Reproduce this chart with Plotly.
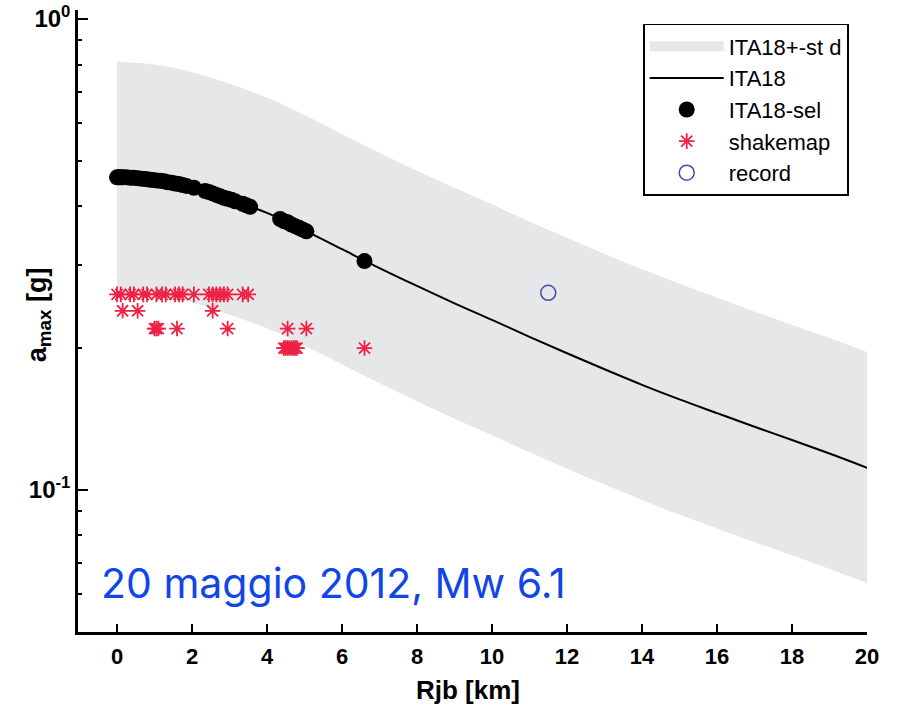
import plotly.graph_objects as go

# ITA18 median curve and +/- one standard deviation band (values in g)
dist_km = list(range(0, 21))
ita18_median = [0.4613, 0.4550, 0.4385, 0.4140, 0.3873, 0.3556, 0.3243, 0.2958, 0.2710, 0.2489,
                0.2296, 0.2113, 0.1950, 0.1803, 0.1671, 0.1556, 0.1455, 0.1361, 0.1276, 0.1194, 0.1114]
ita18_upper = [0.811, 0.800, 0.771, 0.728, 0.681, 0.625, 0.570, 0.520, 0.476, 0.438,
               0.404, 0.371, 0.343, 0.317, 0.294, 0.274, 0.256, 0.239, 0.224, 0.210, 0.196]
ita18_lower = [0.2624, 0.2589, 0.2495, 0.2355, 0.2203, 0.2023, 0.1845, 0.1683, 0.1542, 0.1416,
               0.1306, 0.1202, 0.1109, 0.1026, 0.0951, 0.0885, 0.0828, 0.0774, 0.0726, 0.0679, 0.0634]

# ITA18 selected sites
sel_x = [0.0, 0.05, 0.1, 0.15, 0.25, 0.35, 0.45, 0.55, 0.65, 0.75, 0.85, 0.95, 1.05, 1.15, 1.25,
         1.35, 1.45, 1.55, 1.65, 1.75, 1.85, 2.05,
         2.35, 2.45, 2.55, 2.65, 2.75, 2.85, 2.95, 3.05, 3.15, 3.35, 3.45, 3.55,
         4.35, 4.45, 4.55, 4.65, 4.75, 4.85, 4.95, 5.05, 6.6]
sel_y = [0.461, 0.461, 0.461, 0.461, 0.461, 0.460, 0.460, 0.459, 0.458, 0.457, 0.456, 0.455, 0.454,
         0.453, 0.452, 0.450, 0.449, 0.447, 0.446, 0.444, 0.442, 0.438,
         0.431, 0.429, 0.426, 0.423, 0.420, 0.417, 0.415, 0.413, 0.410, 0.405, 0.402, 0.399,
         0.376, 0.372, 0.370, 0.366, 0.363, 0.360, 0.357, 0.354, 0.306]

# ShakeMap values
shake_x = [0.0, 0.1, 0.35, 0.45, 0.7, 0.8, 1.05, 1.2, 1.3, 1.55, 1.65, 1.75, 2.05, 2.45, 2.55, 2.65,
           2.75, 2.85, 2.95, 3.35, 3.5,
           0.15, 0.55, 2.55,
           1.0, 1.05, 1.1, 1.6, 2.95, 4.55, 5.05,
           4.45, 4.5, 4.55, 4.6, 4.65, 4.7, 4.75, 4.8, 6.6]
shake_y = [0.26] * 21 + [0.24] * 3 + [0.22] * 7 + [0.20] * 9

# Recorded value
rec_x = [11.5]
rec_y = [0.262]

x_ticks = list(range(0, 21, 2))
y_major = [0.1, 1.0]
y_major_text = ["<b>10<sup>-1</sup></b>", "<b>10<sup>0</sup></b>"]
y_minor = [0.06, 0.07, 0.08, 0.09, 0.2, 0.3, 0.4, 0.5, 0.6, 0.7, 0.8, 0.9]

title_text = "20 maggio 2012, Mw 6.1"

BAND = "#E6E7E9"
RED = "#EE2244"
NAVY = "#4A4AA8"

fig = go.Figure()
fig.add_trace(go.Scatter(x=dist_km, y=ita18_lower, mode="lines", line=dict(width=0, shape="spline"),
                         showlegend=False, hoverinfo="skip"))
fig.add_trace(go.Scatter(x=dist_km, y=ita18_upper, mode="lines", line=dict(width=0, shape="spline"),
                         fill="tonexty", fillcolor=BAND, showlegend=False, hoverinfo="skip"))
# legend entry for the band (thick grey swatch)
fig.add_trace(go.Scatter(x=[None], y=[None], mode="lines", line=dict(color=BAND, width=18),
                         name="ITA18+-st d"))
fig.add_trace(go.Scatter(x=dist_km, y=ita18_median, mode="lines",
                         line=dict(color="black", width=2, shape="spline"), name="ITA18"))
fig.add_trace(go.Scatter(x=sel_x, y=sel_y, mode="markers",
                         marker=dict(color="black", size=16, symbol="circle"), name="ITA18-sel"))
fig.add_trace(go.Scatter(x=shake_x, y=shake_y, mode="markers",
                         marker=dict(symbol="asterisk-open", size=13, color=RED,
                                     line=dict(color=RED, width=1.8)), name="shakemap"))
fig.add_trace(go.Scatter(x=rec_x, y=rec_y, mode="markers",
                         marker=dict(symbol="circle-open", size=15, color=NAVY,
                                     line=dict(color=NAVY, width=1.5)), name="record"))

fig.update_xaxes(range=[-1.04, 20], tickvals=x_ticks, ticktext=[f"<b>{v}</b>" for v in x_ticks],
                 ticks="inside", ticklen=8, tickwidth=2, tickcolor="black", automargin=False,
                 showline=True, linewidth=2.5, linecolor="black", showgrid=False, zeroline=False,
                 tickfont=dict(family="Liberation Sans", size=22, color="black"), ticklabelstandoff=3)
fig.update_yaxes(type="log", range=[-1.302, 0.019], tickvals=y_major, ticktext=y_major_text,
                 ticks="inside", ticklen=10, tickwidth=2, tickcolor="black", automargin=False,
                 minor=dict(tickvals=y_minor, ticks="inside", ticklen=4, tickwidth=2, tickcolor="black"),
                 showline=True, linewidth=2.5, linecolor="black", showgrid=False, zeroline=False,
                 tickfont=dict(family="Liberation Sans", size=24, color="black"), ticklabelstandoff=0)

fig.add_annotation(text="<b>Rjb [km]</b>", xref="paper", yref="paper", x=0.494, y=-0.093,
                   showarrow=False, font=dict(family="Liberation Sans", size=26, color="black"),
                   xanchor="center", yanchor="middle")
fig.add_annotation(text="<b>a<sub>max</sub> [g]</b>", xref="paper", yref="paper", x=-0.05, y=0.51,
                   textangle=-90, showarrow=False,
                   font=dict(family="Liberation Sans", size=27, color="black"),
                   xanchor="center", yanchor="middle")
fig.add_annotation(text=title_text, xref="paper", yref="paper", x=0.027, y=0.079,
                   showarrow=False, font=dict(family="Inter", size=41, color="#1046E8"),
                   xanchor="left", yanchor="middle")

fig.update_layout(
    width=900, height=714,
    margin=dict(l=78, r=33, t=10, b=82, autoexpand=False),
    plot_bgcolor="white", paper_bgcolor="white",
    legend=dict(x=0.716, y=0.978, xanchor="left", yanchor="top", traceorder="normal",
                bgcolor="white", bordercolor="black", borderwidth=1.8,
                font=dict(family="Liberation Sans", size=22, color="black"),
                itemwidth=74, tracegroupgap=0),
)

fig.write_html("out.html")
